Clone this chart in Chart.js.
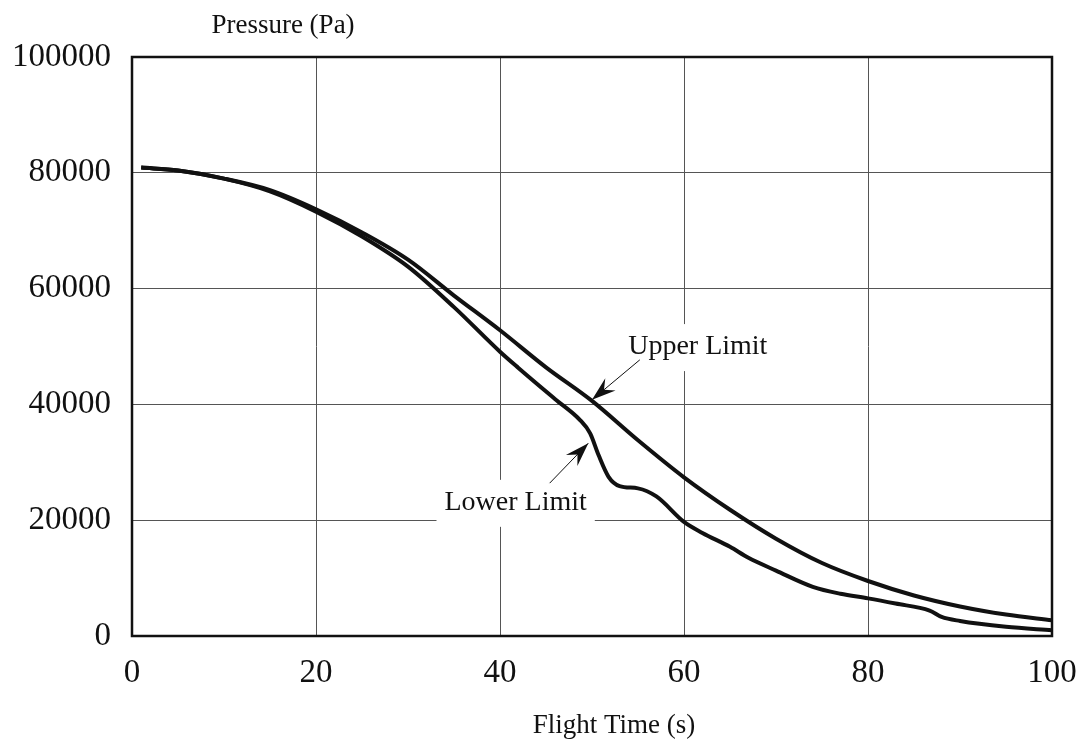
<!DOCTYPE html>
<html>
<head>
<meta charset="utf-8">
<script src="https://cdn.jsdelivr.net/npm/chart.js@4.4.0/dist/chart.umd.min.js"></script>
<style>
  html, body { margin: 0; padding: 0; background: #fff; }
  #wrap { width: 1083px; height: 740px; }
</style>
</head>
<body>
<div id="wrap"><canvas id="grafica"></canvas></div>
<script>
// curvas (tiempo en s, presión en Pa)
const timeUpper = [1, 5, 10, 15, 20, 25, 30, 35, 40, 45, 50, 55, 60, 65, 70, 75, 80, 85, 90, 95, 100];
const pressureUpper = [80900, 80400, 79000, 77000, 73700, 69700, 65000, 58800, 52800, 46400, 40600, 33800, 27400, 21800, 16800, 12600, 9500, 7000, 5100, 3700, 2700];

const timeLower = [1, 5, 10, 15, 20, 25, 30, 35, 40, 42, 46, 48.7, 49.8, 50.7, 51.8, 53, 55, 57, 60, 62, 65, 67, 70, 74, 77, 80, 83, 86.7, 88, 90, 95, 100];
const pressureLower = [80900, 80400, 79000, 76800, 73300, 69000, 63800, 56800, 49100, 46300, 40900, 37300, 35000, 31300, 27500, 25900, 25500, 24100, 19700, 17800, 15400, 13500, 11300, 8500, 7300, 6500, 5600, 4400, 3300, 2600, 1600, 1000];

const xTicks = [0, 20, 40, 60, 80, 100];
const yTicks = [0, 20000, 40000, 60000, 80000, 100000];

// etiquetas con flecha: texto centrado en (tx, ty), flecha de (ax, ay) a (bx, by)
const notes = [
  { text: 'Upper Limit', tx: 61.5, ty: 49900, ax: 55.2, ay: 47700, bx: 50.0, by: 40800 },
  { text: 'Lower Limit', tx: 41.7, ty: 23000, ax: 45.4, ay: 26400, bx: 49.6, by: 33300 }
];

const serif = '"Liberation Serif", "Times New Roman", serif';

function toPoints(xs, ys) {
  return xs.map((x, i) => ({ x: x, y: ys[i] }));
}

const marcoYTextos = {
  id: 'marcoYTextos',
  afterDatasetsDraw(chart) {
    const { ctx, chartArea, scales } = chart;
    const xs = scales.x, ys = scales.y;
    ctx.save();

    // notas con fondo blanco y flecha
    ctx.font = '28px ' + serif;
    ctx.textAlign = 'center';
    ctx.textBaseline = 'middle';
    notes.forEach(n => {
      const cx = xs.getPixelForValue(n.tx);
      const cy = ys.getPixelForValue(n.ty);
      const w = ctx.measureText(n.text).width + 16;
      ctx.fillStyle = '#fff';
      ctx.fillRect(cx - w / 2, cy - 23, w, 47);
      ctx.fillStyle = '#111';
      ctx.fillText(n.text, cx, cy);

      const x1 = xs.getPixelForValue(n.ax), y1 = ys.getPixelForValue(n.ay);
      const x2 = xs.getPixelForValue(n.bx), y2 = ys.getPixelForValue(n.by);
      const ang = Math.atan2(y2 - y1, x2 - x1);
      ctx.strokeStyle = '#111';
      ctx.lineWidth = 1;
      ctx.beginPath();
      ctx.moveTo(x1, y1);
      ctx.lineTo(x2, y2);
      ctx.stroke();
      const L = 24, W = 8;
      ctx.beginPath();
      ctx.moveTo(x2, y2);
      ctx.lineTo(x2 - L * Math.cos(ang) + W * Math.sin(ang), y2 - L * Math.sin(ang) - W * Math.cos(ang));
      ctx.lineTo(x2 - 0.65 * L * Math.cos(ang), y2 - 0.65 * L * Math.sin(ang));
      ctx.lineTo(x2 - L * Math.cos(ang) - W * Math.sin(ang), y2 - L * Math.sin(ang) + W * Math.cos(ang));
      ctx.closePath();
      ctx.fill();
    });

    // marco
    ctx.strokeStyle = '#111';
    ctx.lineWidth = 2.5;
    ctx.strokeRect(chartArea.left, chartArea.top, chartArea.right - chartArea.left, chartArea.bottom - chartArea.top);

    // títulos de los ejes
    ctx.fillStyle = '#111';
    ctx.font = '27px ' + serif;
    ctx.textBaseline = 'alphabetic';
    ctx.textAlign = 'center';
    ctx.fillText('Pressure (Pa)', 283, 33);
    ctx.fillText('Flight Time (s)', 614, 733);
    ctx.restore();
  }
};

const ctx = document.getElementById('grafica').getContext('2d');
new Chart(ctx, {
  type: 'scatter',
  data: {
    datasets: [
      {
        label: 'Upper Limit',
        data: toPoints(timeUpper, pressureUpper),
        showLine: true,
        borderColor: '#111',
        borderWidth: 4,
        pointRadius: 0,
        cubicInterpolationMode: 'monotone'
      },
      {
        label: 'Lower Limit',
        data: toPoints(timeLower, pressureLower),
        showLine: true,
        borderColor: '#111',
        borderWidth: 4,
        pointRadius: 0,
        cubicInterpolationMode: 'monotone'
      }
    ]
  },
  options: {
    responsive: true,
    maintainAspectRatio: false,
    animation: false,
    layout: { padding: { top: 57, right: 31, left: 0, bottom: 0 } },
    plugins: {
      legend: { display: false },
      tooltip: { enabled: false }
    },
    scales: {
      x: {
        type: 'linear',
        min: 0,
        max: 100,
        afterFit: (scale) => {
          scale.height = 104;
          scale.paddingLeft = 0;
          scale.paddingRight = 0;
        },
        afterBuildTicks: (scale) => { scale.ticks = xTicks.map(v => ({ value: v })); },
        grid: { color: '#555', lineWidth: 1, drawTicks: false },
        border: { display: false },
        ticks: { color: '#111', padding: 18, font: { family: serif, size: 33 } }
      },
      y: {
        type: 'linear',
        min: 0,
        max: 100000,
        afterFit: (scale) => {
          scale.width = 132;
          scale.paddingTop = 0;
          scale.paddingBottom = 0;
        },
        afterBuildTicks: (scale) => { scale.ticks = yTicks.map(v => ({ value: v })); },
        grid: { color: '#555', lineWidth: 1, drawTicks: false },
        border: { display: false },
        ticks: { color: '#111', padding: 21, font: { family: serif, size: 33 }, callback: (v) => String(v) }
      }
    }
  },
  plugins: [marcoYTextos]
});
</script>
</body>
</html>
